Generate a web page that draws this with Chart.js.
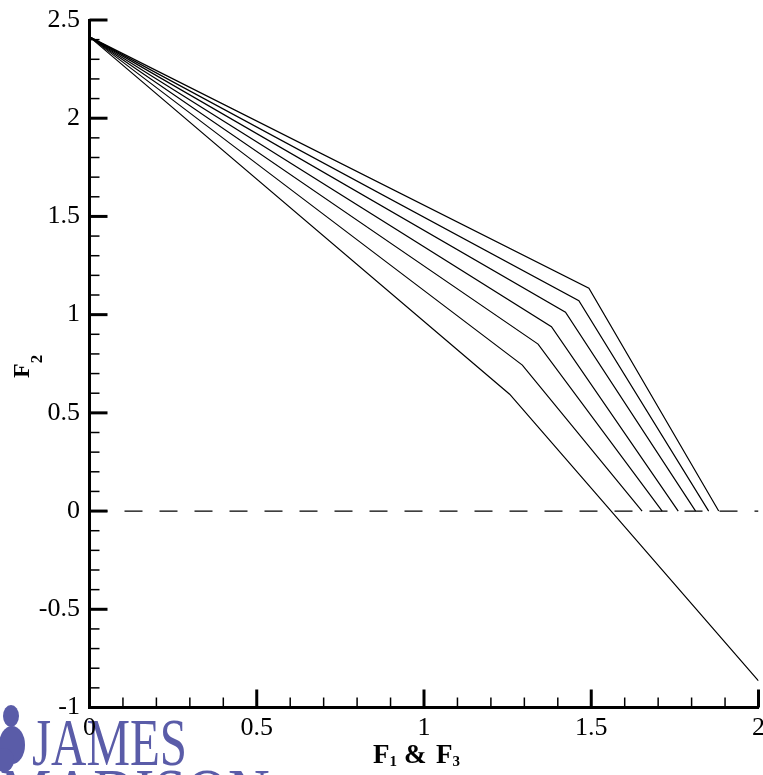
<!DOCTYPE html>
<html>
<head>
<meta charset="utf-8">
<title>F2 versus F1 &amp; F3</title>
<script src="https://cdn.jsdelivr.net/npm/chart.js@4.4.1/dist/chart.umd.min.js"></script>
<style>
    html, body { margin: 0; padding: 0; background: #fff; }
    #wrap { width: 763px; height: 775px; }
</style>
</head>
<body>
<div id="wrap"><canvas id="chart" width="763" height="775"></canvas></div>
<script>

// every curve leaves the same point on the F2 axis
var startF1 = 0;
var startF2 = 2.414;

// knee of each curve, top curve first
var kneeF1 = [1.493, 1.463, 1.423, 1.381, 1.341, 1.294, 1.256];
var kneeF2 = [1.135, 1.071, 1.012, 0.939, 0.850, 0.743, 0.595];

// where each curve stops
var endF1 = [1.881, 1.851, 1.812, 1.760, 1.712, 1.652, 2.0];
var endF2 = [0, 0, 0, 0, 0, 0, -0.864];

// dashed line at F2 = 0
var zeroF1 = [0, 2];
var zeroF2 = [0, 0];

var xTicks = [0, 0.5, 1, 1.5, 2];
var yTicks = [-1, -0.5, 0, 0.5, 1, 1.5, 2, 2.5];
var minorStep = 0.1;

var serif = '"Liberation Serif", "Times New Roman", serif';
var jmuPurple = '#5a5ca8';

function buildDatasets() {
    var sets = [];
    for (var i = 0; i < kneeF1.length; i++) {
        sets.push({
            label: 'curve ' + (i + 1),
            data: [
                {x: startF1, y: startF2},
                {x: kneeF1[i], y: kneeF2[i]},
                {x: endF1[i], y: endF2[i]}
            ],
            showLine: true,
            borderColor: '#000',
            borderWidth: 1.2,
            pointRadius: 0,
            tension: 0
        });
    }
    sets.push({
        label: 'F2 = 0',
        data: zeroF1.map(function (v, k) { return {x: v, y: zeroF2[k]}; }),
        showLine: true,
        borderColor: '#000',
        borderWidth: 1.2,
        borderDash: [18, 17],
        pointRadius: 0
    });
    return sets;
}

// Tecplot style ticks pointing into the plot
var inwardTicks = {
    id: 'inwardTicks',
    afterDatasetsDraw: function (chart) {
        var ctx = chart.ctx;
        var xs = chart.scales.x;
        var ys = chart.scales.y;
        var area = chart.chartArea;
        ctx.save();
        ctx.strokeStyle = '#000';
        ctx.lineCap = 'butt';

        var n = Math.round((xs.max - xs.min) / minorStep);
        for (var i = 0; i <= n; i++) {
            var v = xs.min + i * minorStep;
            var major = i % 5 === 0;
            var px = xs.getPixelForValue(v);
            ctx.lineWidth = major ? 3 : 1.5;
            ctx.beginPath();
            ctx.moveTo(px, area.bottom);
            ctx.lineTo(px, area.bottom - (major ? 18 : 10));
            ctx.stroke();
        }

        n = Math.round((ys.max - ys.min) / minorStep);
        for (var j = 0; j <= n; j++) {
            var w = ys.min + j * minorStep;
            var big = j % 5 === 0;
            var py = ys.getPixelForValue(w);
            ctx.lineWidth = big ? 3 : 1.5;
            ctx.beginPath();
            ctx.moveTo(area.left, py);
            ctx.lineTo(area.left + (big ? 18 : 10), py);
            ctx.stroke();
        }
        ctx.restore();
    }
};

// university watermark in the lower left corner
var watermark = {
    id: 'watermark',
    beforeDraw: function (chart) {
        var ctx = chart.ctx;
        ctx.save();
        ctx.fillStyle = jmuPurple;

        ctx.beginPath();
        ctx.ellipse(11, 716, 8, 11, 0, 0, Math.PI * 2);
        ctx.fill();
        ctx.beginPath();
        ctx.ellipse(12, 745, 13, 19, 0, 0, Math.PI * 2);
        ctx.fill();
        ctx.beginPath();
        ctx.ellipse(4, 760, 10, 12, 0, 0, Math.PI * 2);
        ctx.fill();

        ctx.font = '68px ' + serif;
        ctx.textBaseline = 'alphabetic';
        ctx.save();
        ctx.translate(32, 765);
        ctx.scale(0.72, 1);
        ctx.fillText('JAMES', 0, 0);
        ctx.restore();

        ctx.save();
        ctx.translate(0, 815);
        ctx.scale(0.85, 1);
        ctx.fillText('MADISON', 0, 0);
        ctx.restore();
        ctx.restore();
    }
};

// axis titles with subscripts
function subText(ctx, x, y, main, sub, mainSize, subSize, drop) {
    ctx.font = 'bold ' + mainSize + 'px ' + serif;
    ctx.fillText(main, x, y);
    var w = ctx.measureText(main).width;
    ctx.font = 'bold ' + subSize + 'px ' + serif;
    ctx.fillText(sub, x + w, y + drop);
    return x + w + ctx.measureText(sub).width;
}

var axisTitles = {
    id: 'axisTitles',
    afterDraw: function (chart) {
        var ctx = chart.ctx;
        ctx.save();
        ctx.fillStyle = '#000';
        ctx.textBaseline = 'alphabetic';
        ctx.textAlign = 'left';

        subText(ctx, 373, 763, 'F', '1', 27, 15, 3);
        ctx.font = 'bold 27px ' + serif;
        ctx.fillText('&', 404, 763);
        subText(ctx, 436, 763, 'F', '3', 27, 15, 3);

        ctx.translate(29, 378);
        ctx.rotate(-Math.PI / 2);
        subText(ctx, 0, 0, 'F', '2', 24, 17, 13);
        ctx.restore();
    }
};

var chart = new Chart(document.getElementById('chart'), {
    type: 'scatter',
    data: {datasets: buildDatasets()},
    options: {
        responsive: false,
        devicePixelRatio: 1,
        animation: false,
        layout: {padding: {left: 0, top: 20, right: 4.5, bottom: 0}},
        plugins: {
            legend: {display: false},
            tooltip: {enabled: false}
        },
        scales: {
            x: {
                type: 'linear',
                min: 0,
                max: 2,
                grid: {display: false, drawTicks: false},
                border: {display: true, color: '#000', width: 3},
                ticks: {
                    color: '#000',
                    font: {family: serif, size: 26},
                    padding: 5,
                    maxRotation: 0,
                    autoSkip: false,
                    callback: function (v) { return String(v); }
                },
                afterBuildTicks: function (s) {
                    s.ticks = xTicks.map(function (v) { return {value: v}; });
                },
                afterFit: function (s) {
                    s.height = 67.5;
                    s.paddingLeft = 0;
                    s.paddingRight = 0;
                }
            },
            y: {
                type: 'linear',
                min: -1,
                max: 2.5,
                grid: {display: false, drawTicks: false},
                border: {display: true, color: '#000', width: 3},
                ticks: {
                    color: '#000',
                    font: {family: serif, size: 26},
                    padding: 9.5,
                    autoSkip: false,
                    callback: function (v) { return String(v); }
                },
                afterBuildTicks: function (s) {
                    s.ticks = yTicks.map(function (v) { return {value: v}; });
                },
                afterFit: function (s) {
                    s.width = 89.5;
                    s.paddingTop = 0;
                    s.paddingBottom = 0;
                }
            }
        }
    },
    plugins: [watermark, inwardTicks, axisTitles]
});

</script>
</body>
</html>
